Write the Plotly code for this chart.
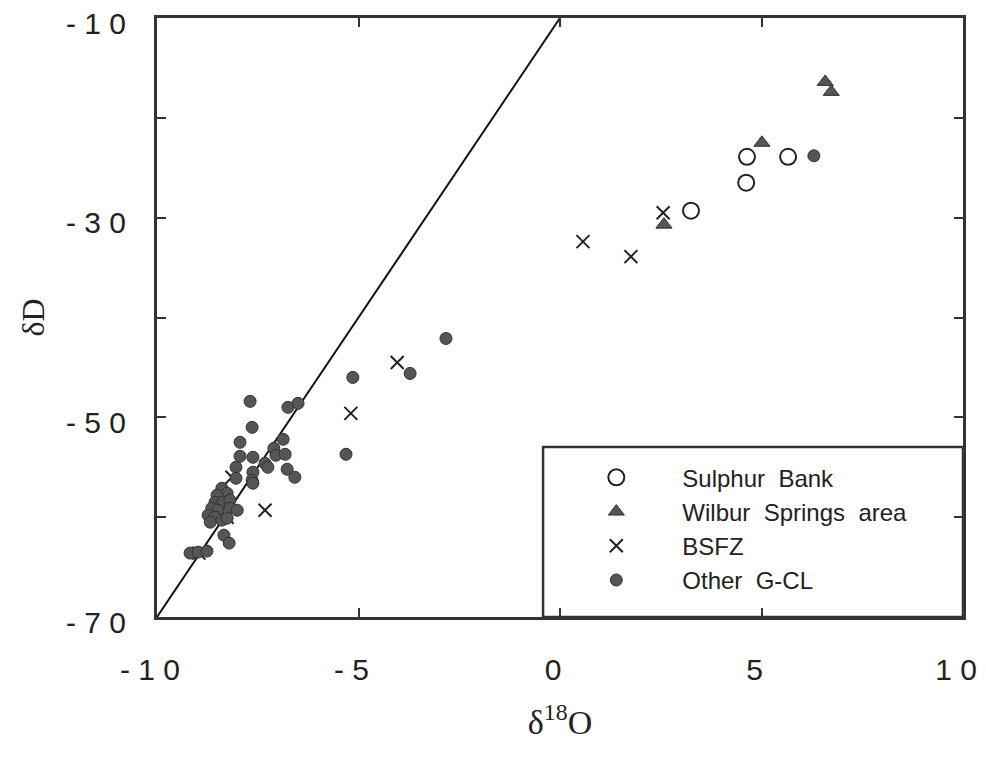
import plotly.graph_objects as go

# Sulphur Bank (open circles)
sb_x = [4.64, 5.66, 4.62, 3.25]
sb_y = [-23.9, -23.9, -26.5, -29.3]

# Wilbur Springs area (filled triangles)
ws_x = [6.58, 6.73, 5.01, 2.58]
ws_y = [-16.4, -17.4, -22.5, -30.7]

# BSFZ (crosses)
bs_x = [2.56, 0.57, 1.76, -4.04, -5.19, -8.14, -8.26, -7.32, -8.96]
bs_y = [-29.5, -32.4, -33.9, -44.5, -49.6, -56.0, -60.0, -59.3, -63.6]

# Other G-CL (filled dots)
og_x = [6.30, -2.83, -3.72, -5.14, -5.31,
        -7.69, -6.75, -6.50, -7.64, -7.94, -6.87,
        -7.10, -7.05, -6.82, -7.94, -7.62, -7.32, -7.25, -6.77, -6.58,
        -8.04, -8.04, -7.62, -7.64, -7.62,
        -8.39, -8.26, -8.51, -8.56, -8.36, -8.19, -8.64, -8.49, -8.19, -8.01,
        -8.73, -8.56, -8.68, -8.39, -8.26,
        -8.34, -8.21, -9.18, -8.98, -8.76]
og_y = [-23.8, -42.1, -45.6, -46.0, -53.7,
        -48.4, -49.0, -48.6, -51.0, -52.5, -52.2,
        -53.1, -53.8, -53.7, -53.9, -54.0, -54.6, -55.0, -55.2, -56.0,
        -55.0, -56.1, -55.5, -56.3, -56.6,
        -57.1, -57.6, -57.8, -58.5, -58.5, -58.3, -59.1, -59.3, -59.1, -59.3,
        -59.8, -60.0, -60.5, -60.3, -60.1,
        -61.8, -62.6, -63.6, -63.5, -63.4]

# reference line
line_x = [-10, 0]
line_y = [-70, -10]

x_ticks = [-10, -5, 0, 5, 10]
x_ticktext = ["- 1 0", "- 5", "0", "5", "1 0"]
y_ticks = [-70, -60, -50, -40, -30, -20, -10]
y_ticktext = ["- 7 0", "", "- 5 0", "", "- 3 0", "", "- 1 0"]

fig = go.Figure()
fig.add_trace(go.Scatter(x=line_x, y=line_y, mode="lines",
                         line=dict(color="#111", width=2), showlegend=False,
                         hoverinfo="skip"))
fig.add_trace(go.Scatter(x=sb_x, y=sb_y, mode="markers", name="Sulphur  Bank",
                         marker=dict(symbol="circle-open", size=16, color="#222",
                                     line=dict(width=2))))
fig.add_trace(go.Scatter(x=ws_x, y=ws_y, mode="markers", name="Wilbur  Springs  area",
                         marker=dict(symbol="triangle-up", size=14, color="#555",
                                     line=dict(width=1, color="#333"))))
fig.add_trace(go.Scatter(x=bs_x, y=bs_y, mode="markers", name="BSFZ",
                         marker=dict(symbol="x-thin", size=13, color="#222",
                                     line=dict(width=2, color="#222"))))
fig.add_trace(go.Scatter(x=og_x, y=og_y, mode="markers", name="Other  G-CL",
                         marker=dict(symbol="circle", size=12, color="#555",
                                     line=dict(width=1, color="#333"))))

fig.add_shape(type="rect", xref="paper", yref="paper", x0=0.479, x1=1.0, y0=0.0, y1=0.284,
              line=dict(color="#333", width=2.5), fillcolor="white", layer="below")

axis_common = dict(showline=True, linecolor="#333", linewidth=3, mirror="allticks",
                   ticks="inside", ticklen=9, tickwidth=2, tickcolor="#333",
                   showgrid=False, zeroline=False, automargin=False,
                   ticklabeloverflow="allow",
                   tickfont=dict(family="Liberation Sans", size=30, color="#222"))

fig.update_layout(
    width=970, height=743,
    margin=dict(l=149, r=15, t=10, b=134),
    paper_bgcolor="white", plot_bgcolor="white",
    xaxis=dict(range=[-10, 10], tickvals=x_ticks, ticktext=x_ticktext,
               ticklabelstandoff=24, ticklabelshift=-7,
               title=dict(text="δ<sup>18</sup>O", standoff=26,
                          font=dict(family="Liberation Serif", size=34, color="#222")),
               **axis_common),
    yaxis=dict(range=[-70, -10], tickvals=y_ticks, ticktext=y_ticktext,
               ticklabelstandoff=22, ticklabelshift=5,
               title=dict(text="δD", standoff=12,
                          font=dict(family="Liberation Serif", size=32, color="#222")),
               **axis_common),
    legend=dict(x=0.488, y=0.270, xanchor="left", yanchor="top",
                bgcolor="rgba(0,0,0,0)", borderwidth=0, itemwidth=122,
                font=dict(family="Liberation Sans", size=24, color="#222"),
                tracegroupgap=0),
)

fig.write_html("out.html")
